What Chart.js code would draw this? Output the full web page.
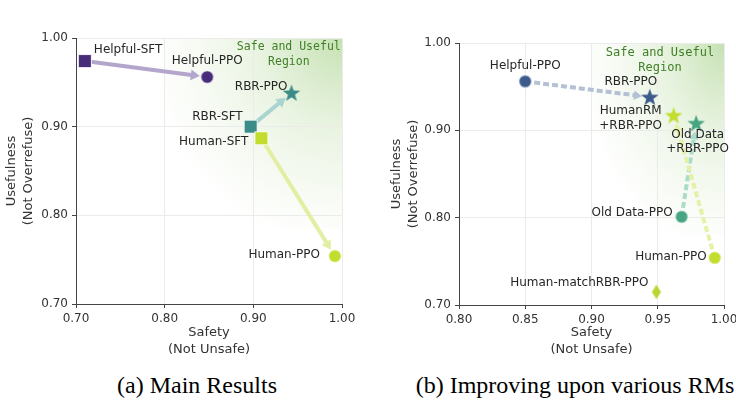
<!DOCTYPE html>
<html>
<head>
<meta charset="utf-8">
<script src="https://cdn.jsdelivr.net/npm/chart.js@4.4.1/dist/chart.umd.min.js"></script>
<style>
  html, body { margin: 0; padding: 0; background: #fff; }
  body { width: 736px; height: 402px; overflow: hidden; position: relative; }
  canvas { position: absolute; top: 0; }
  #mainChart { left: 0; }
  #rmChart { left: 368px; }
  .caption { position: absolute; top: 373px; font-family: 'Liberation Serif', 'Times New Roman', serif;
             font-size: 24px; line-height: 24px; color: #000; text-align: center; white-space: nowrap; }
</style>
</head>
<body>
<canvas id="mainChart" width="368" height="360"></canvas>
<canvas id="rmChart" width="380" height="360"></canvas>
<div class="caption" style="left:97px;width:200px">(a) Main Results</div>
<div class="caption" style="left:405px;width:340px">(b) Improving upon various RMs</div>
<script>
// (a) Main Results
const mainNames = ['Helpful-SFT', 'Helpful-PPO', 'RBR-SFT', 'RBR-PPO', 'Human-SFT', 'Human-PPO'];
const mainSafety = [0.710, 0.848, 0.897, 0.943, 0.909, 0.992];
const mainUsefulness = [0.974, 0.956, 0.900, 0.938, 0.887, 0.754];
const mainArrows = [[0, 1], [2, 3], [4, 5]]; // SFT -> PPO
const mainXTicks = [0.70, 0.80, 0.90, 1.00];
const mainYTicks = [0.70, 0.80, 0.90, 1.00];

// (b) Improving upon various RMs
const rmNames = ['Helpful-PPO', 'RBR-PPO', ['HumanRM', '+RBR-PPO'], ['Old Data', '+RBR-PPO'],
                 'Old Data-PPO', 'Human-PPO', 'Human-matchRBR-PPO'];
const rmSafety = [0.850, 0.944, 0.962, 0.979, 0.968, 0.993, 0.949];
const rmUsefulness = [0.956, 0.938, 0.917, 0.908, 0.801, 0.754, 0.715];
const rmArrows = [[0, 1], [4, 3], [5, 2]]; // base RM -> +RBR
const rmXTicks = [0.80, 0.85, 0.90, 0.95, 1.00];
const rmYTicks = [0.70, 0.80, 0.90, 1.00];

const FONT = "'DejaVu Sans', sans-serif";
const PURPLE = '#472c7a', TEAL = '#3b8c89', LIME = '#c3dd2f', BLUE = '#3c5a8c', GREEN = '#48a583', LIME2 = '#b9d633';

// marker look + label placement (pixel offsets from the point)
const mainLook = [
  { shape: 'square', color: PURPLE, dx: 9, dy: -11, align: 'left' },
  { shape: 'circle', color: PURPLE, dx: 0, dy: -16, align: 'center' },
  { shape: 'square', color: TEAL, dx: -8, dy: -10, align: 'right' },
  { shape: 'star', color: TEAL, dx: -4, dy: -6, align: 'right' },
  { shape: 'square', color: LIME, dx: -13, dy: 3.5, align: 'right' },
  { shape: 'circle', color: LIME, dx: -15, dy: -1, align: 'right' }
];
const mainArrowColors = ['#b3a5cc', '#a9d4cf', '#e3eea3'];

const rmLook = [
  { shape: 'circle', color: BLUE, dx: 0, dy: -16, align: 'center' },
  { shape: 'star', color: BLUE, dx: -19, dy: -15, align: 'center' },
  { shape: 'star', color: LIME, dx: -43, dy: 3, align: 'center' },
  { shape: 'star', color: GREEN, dx: 1.5, dy: 18.5, align: 'center' },
  { shape: 'circle', color: GREEN, dx: -9, dy: -3.5, align: 'right' },
  { shape: 'circle', color: LIME, dx: -8, dy: -1, align: 'right' },
  { shape: 'diamond', color: LIME2, dx: -8, dy: -9, align: 'right' }
];
const rmArrowColors = ['#b4c1d4', '#a9dccb', '#e6f0a6'];

function marker(shape, color) {
  const c = document.createElement('canvas');
  const s = shape === 'star' ? 20 : 18;
  c.width = s; c.height = s;
  const g = c.getContext('2d');
  const m = s / 2;
  g.fillStyle = color;
  g.strokeStyle = 'rgba(255,255,255,0.85)';
  g.lineWidth = 1;
  g.beginPath();
  if (shape === 'square') {
    g.rect(m - 6.5, m - 6.5, 13, 13);
  } else if (shape === 'circle') {
    g.arc(m, m, 6.3, 0, Math.PI * 2);
  } else if (shape === 'star') {
    for (let i = 0; i < 10; i++) {
      const r = i % 2 ? 3.7 : 9.2;
      const a = -Math.PI / 2 + i * Math.PI / 5;
      g.lineTo(m + r * Math.cos(a), m + 0.6 + r * Math.sin(a));
    }
    g.closePath();
  } else {
    g.moveTo(m, m - 8); g.lineTo(m + 5, m); g.lineTo(m, m + 8); g.lineTo(m - 5, m); g.closePath();
  }
  g.fill();
  if (shape !== 'star') g.stroke();
  return c;
}

function regionPlugin(x0, y0, text, fontSize) {
  return {
    id: 'region',
    beforeDraw(chart) {
      const { ctx, scales: { x, y } } = chart;
      const cx = x.getPixelForValue(1), cy = y.getPixelForValue(1);
      const left = x.getPixelForValue(x0), bottom = y.getPixelForValue(y0);
      const rx = (cx - left) * 1.1, ry = (bottom - cy) * 1.1;
      ctx.save();
      ctx.beginPath();
      ctx.rect(left, cy, cx - left, bottom - cy);
      ctx.clip();
      ctx.translate(cx, cy);
      ctx.scale(rx, ry);
      const grad = ctx.createRadialGradient(0, 0, 0, 0, 0, 1);
      grad.addColorStop(0, 'rgba(140,195,105,0.5)');
      grad.addColorStop(0.45, 'rgba(160,205,125,0.22)');
      grad.addColorStop(1, 'rgba(180,215,150,0)');
      ctx.fillStyle = grad;
      ctx.fillRect(-1.2, -0.1, 1.3, 1.3);
      ctx.restore();
    },
    afterDatasetsDraw(chart) {
      const { ctx, scales: { x, y } } = chart;
      ctx.save();
      ctx.font = fontSize + "px 'DejaVu Sans Mono', monospace";
      ctx.fillStyle = '#3f7f25';
      ctx.textAlign = 'center';
      ctx.textBaseline = 'middle';
      const px = x.getPixelForValue(text.x), py = y.getPixelForValue(text.y);
      ctx.fillText('Safe and Useful', px, py - 7.5);
      ctx.fillText('Region', px, py + 7.5);
      ctx.restore();
    }
  };
}

function arrowPlugin(xs, ys, pairs, colors, dash, lw, shrink, head) {
  return {
    id: 'arrows',
    beforeDatasetsDraw(chart) {
      const { ctx, scales: { x, y } } = chart;
      pairs.forEach(([a, b], i) => {
        const x1 = x.getPixelForValue(xs[a]), y1 = y.getPixelForValue(ys[a]);
        const x2 = x.getPixelForValue(xs[b]), y2 = y.getPixelForValue(ys[b]);
        const len = Math.hypot(x2 - x1, y2 - y1);
        const ux = (x2 - x1) / len, uy = (y2 - y1) / len;
        const tx = x2 - ux * shrink, ty = y2 - uy * shrink;
        ctx.save();
        ctx.strokeStyle = colors[i];
        ctx.fillStyle = colors[i];
        ctx.lineWidth = lw;
        ctx.setLineDash(dash);
        ctx.beginPath();
        ctx.moveTo(x1, y1);
        ctx.lineTo(tx - ux * head * 0.7, ty - uy * head * 0.7);
        ctx.stroke();
        ctx.setLineDash([]);
        const hw = head * 0.6;
        ctx.beginPath();
        ctx.moveTo(tx, ty);
        ctx.lineTo(tx - ux * head - uy * hw, ty - uy * head + ux * hw);
        ctx.lineTo(tx - ux * head + uy * hw, ty - uy * head - ux * hw);
        ctx.closePath();
        ctx.fill();
        ctx.restore();
      });
    }
  };
}

function labelPlugin(xs, ys, names, look) {
  return {
    id: 'pointLabels',
    afterDatasetsDraw(chart) {
      const { ctx, scales: { x, y } } = chart;
      ctx.save();
      ctx.font = '12px ' + FONT;
      ctx.fillStyle = '#262626';
      ctx.textBaseline = 'middle';
      names.forEach((name, i) => {
        const lines = Array.isArray(name) ? name : [name];
        const px = x.getPixelForValue(xs[i]) + look[i].dx;
        const py = y.getPixelForValue(ys[i]) + look[i].dy;
        ctx.textAlign = look[i].align;
        lines.forEach((t, k) => ctx.fillText(t, px, py + (k - (lines.length - 1) / 2) * 14.5));
      });
      ctx.restore();
    }
  };
}

function axis(ticks, min, max, title, titleFont, titlePad, fit) {
  return {
    type: 'linear',
    min: min, max: max,
    afterBuildTicks: s => { s.ticks = ticks.map(v => ({ value: v })); },
    afterFit: fit,
    ticks: { font: { family: FONT, size: 12 }, color: '#333', padding: 4, callback: v => v.toFixed(2) },
    grid: { color: '#ebebeb', lineWidth: 1, tickColor: '#444', tickLength: 4 },
    border: { display: true, color: '#444', width: 1 },
    title: { display: true, text: title, color: '#333', font: titleFont, padding: titlePad }
  };
}

function buildChart(id, xs, ys, names, look, cfg) {
  const titleFont = { family: FONT, size: 13, lineHeight: 1.3 };
  return new Chart(document.getElementById(id), {
    type: 'scatter',
    data: {
      datasets: [{
        data: xs.map((v, i) => ({ x: v, y: ys[i] })),
        pointStyle: look.map(l => marker(l.shape, l.color)),
        backgroundColor: look.map(l => l.color),
        pointRadius: 8
      }]
    },
    options: {
      responsive: false,
      animation: false,
      devicePixelRatio: 1,
      layout: { padding: { top: cfg.top, right: cfg.right, left: 0, bottom: 0 } },
      plugins: { legend: { display: false }, tooltip: { enabled: false } },
      scales: {
        x: axis(cfg.xTicks, cfg.xMin, 1.0, ['Safety', '(Not Unsafe)'], titleFont, { top: 0, bottom: 1.7 },
                s => { s.height = cfg.xHeight; }),
        y: axis(cfg.yTicks, 0.70, 1.0, ['Usefulness', '(Not Overrefuse)'], titleFont, { top: cfg.yTitlePad, bottom: 0 },
                s => { s.width = cfg.yWidth; })
      }
    },
    plugins: cfg.plugins
  });
}

buildChart('mainChart', mainSafety, mainUsefulness, mainNames, mainLook, {
  top: 38, right: 26, xHeight: 56, yWidth: 76, yTitlePad: 3,
  xMin: 0.70, xTicks: mainXTicks, yTicks: mainYTicks,
  plugins: [
    regionPlugin(0.80, 0.785, { x: 0.940, y: 0.981 }, 11.5),
    arrowPlugin(mainSafety, mainUsefulness, mainArrows, mainArrowColors, [], 4, 7.5, 9),
    labelPlugin(mainSafety, mainUsefulness, mainNames, mainLook)
  ]
});

buildChart('rmChart', rmSafety, rmUsefulness, rmNames, rmLook, {
  top: 43, right: 24, xHeight: 55, yWidth: 91, yTitlePad: 20.5,
  xMin: 0.80, xTicks: rmXTicks, yTicks: rmYTicks,
  plugins: [
    regionPlugin(0.90, 0.78, { x: 0.9517, y: 0.9796 }, 12),
    arrowPlugin(rmSafety, rmUsefulness, rmArrows, rmArrowColors, [6, 3], 4, 8, 8),
    labelPlugin(rmSafety, rmUsefulness, rmNames, rmLook)
  ]
});
</script>
</body>
</html>
